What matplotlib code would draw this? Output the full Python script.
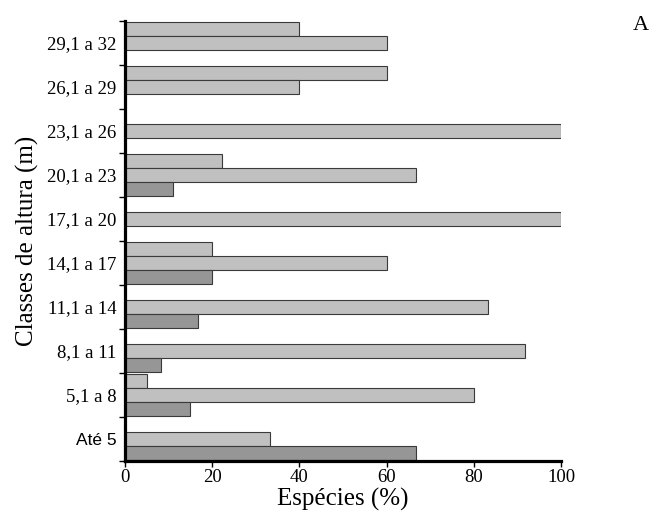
import matplotlib
matplotlib.use("Agg")
import matplotlib.pyplot as plt
import numpy as np

categories = ["Até 5", "5,1 a 8", "8,1 a 11", "11,1 a 14", "14,1 a 17",
              "17,1 a 20", "20,1 a 23", "23,1 a 26", "26,1 a 29", "29,1 a 32"]
serie_top = [0, 5, 0, 0, 20, 0, 22.2, 0, 60, 40]
serie_mid = [33.3, 80, 91.7, 83.3, 60, 100, 66.7, 100, 40, 60]
serie_bot = [66.7, 15, 8.3, 16.7, 20, 0, 11.1, 0, 0, 0]
xticks = [0, 20, 40, 60, 80, 100]

serif = ["Liberation Serif", "DejaVu Serif"]
sans = ["Liberation Sans", "DejaVu Sans"]

fig = plt.figure(figsize=(6.53, 5.15), dpi=100)
ax = fig.add_axes([125/653, 1 - 461/515, (561 - 125)/653, (461 - 21)/515])

y = np.arange(len(categories))
h = 0.32
light = "#c0c0c0"
dark = "#969696"
edge = "#3a3a3a"
lw = 0.8

ax.barh(y + h, serie_top, height=h, color=light, edgecolor=edge, linewidth=lw, zorder=2)
ax.barh(y, serie_mid, height=h, color=light, edgecolor=edge, linewidth=lw, zorder=2)
ax.barh(y - h, serie_bot, height=h, color=dark, edgecolor=edge, linewidth=lw, zorder=2)

ax.set_xlim(0, 100)
ax.set_ylim(-0.5, len(categories) - 0.5)

for s in ["top", "right"]:
    ax.spines[s].set_visible(False)
for s in ["left", "bottom"]:
    ax.spines[s].set_linewidth(2.3)
    ax.spines[s].set_zorder(3)

ax.set_xticks(xticks)
ax.set_xticklabels([str(v) for v in xticks], fontfamily=serif, fontsize=13.5)
ax.tick_params(axis="x", direction="out", length=4, width=1, pad=2)

ax.set_yticks(y)
ax.set_yticklabels(categories, fontsize=13.5)
for lab in ax.get_yticklabels():
    if lab.get_text() == "Até 5":
        lab.set_fontfamily(sans)
        lab.set_fontsize(12.5)
    else:
        lab.set_fontfamily(serif)
ax.tick_params(axis="y", which="major", length=0, pad=6)
ax.set_yticks(np.arange(-0.5, len(categories), 1.0), minor=True)
ax.tick_params(axis="y", which="minor", direction="out", length=4.5, width=1)

ax.set_xlabel("Espécies (%)", fontfamily=serif, fontsize=18, labelpad=1)
ax.set_ylabel("Classes de altura (m)", fontfamily=serif, fontsize=18, labelpad=6)

fig.text(641/653, 1 - 26/515, "A", fontfamily=serif, fontsize=16, ha="center", va="center")

fig.savefig("out.png", dpi=100)
